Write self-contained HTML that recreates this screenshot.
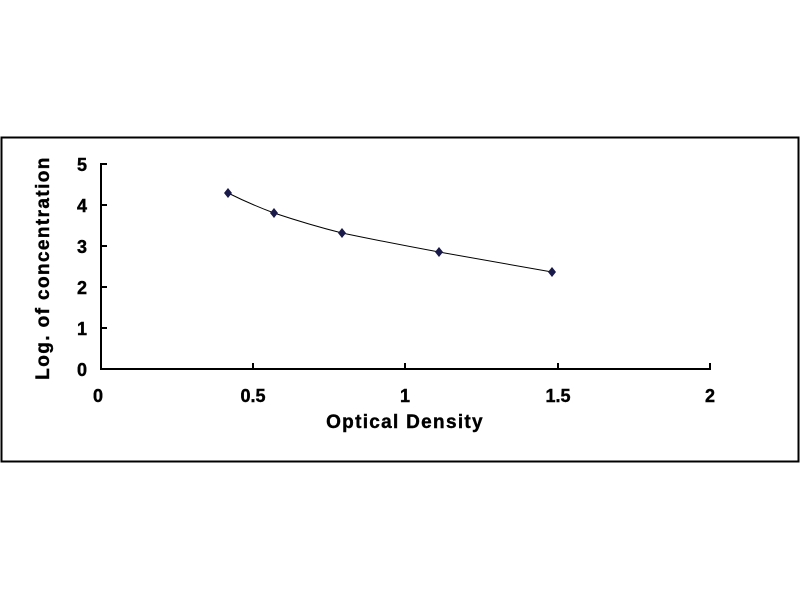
<!DOCTYPE html>
<html><head><style>body{margin:0;background:#fff;}svg{display:block}</style></head>
<body>
<svg width="800" height="600" xmlns="http://www.w3.org/2000/svg" font-family="Liberation Sans, Arial, sans-serif" font-weight="bold">
<rect x="1.5" y="137.5" width="797" height="324" fill="#fff" stroke="#000" stroke-width="2"/>
<g stroke="#000" stroke-width="2">
<line x1="101" y1="163" x2="101" y2="370"/>
<line x1="100" y1="369" x2="711" y2="369"/>
<line x1="101" y1="164" x2="107" y2="164"/>
<line x1="101" y1="205" x2="107" y2="205"/>
<line x1="101" y1="246" x2="107" y2="246"/>
<line x1="101" y1="287" x2="107" y2="287"/>
<line x1="101" y1="328" x2="107" y2="328"/>
<line x1="253" y1="363" x2="253" y2="369"/>
<line x1="405" y1="363" x2="405" y2="369"/>
<line x1="558" y1="363" x2="558" y2="369"/>
<line x1="710" y1="363" x2="710" y2="369"/>
</g>
<g font-size="18" text-anchor="end" stroke="#000" stroke-width="0.4">
<text x="87" y="171">5</text><text x="87" y="212">4</text><text x="87" y="253">3</text>
<text x="87" y="294">2</text><text x="87" y="335">1</text><text x="87" y="376">0</text>
</g>
<g font-size="18" text-anchor="middle" stroke="#000" stroke-width="0.4">
<text x="98" y="402">0</text><text x="253" y="402">0.5</text><text x="405" y="402">1</text>
<text x="558" y="402">1.5</text><text x="710" y="402">2</text>
</g>
<text x="405" y="428" font-size="19" letter-spacing="1.3" text-anchor="middle" stroke="#000" stroke-width="0.4">Optical Density</text>
<text transform="translate(49,268) rotate(-90)" font-size="19" letter-spacing="1.4" text-anchor="middle" stroke="#000" stroke-width="0.4">Log. of concentration</text>
<path d="M228,193 Q250,204 274,213 Q310,225 342,233 Q390,243 439,252 L552,272" fill="none" stroke="#000" stroke-width="1"/>
<g fill="#1a1a4a">
<polygon points="228,188 232,193 228,198 224,193"/>
<polygon points="274,208 278,213 274,218 270,213"/>
<polygon points="342,228 346,233 342,238 338,233"/>
<polygon points="439,247 443,252 439,257 435,252"/>
<polygon points="552,267 556,272 552,277 548,272"/>
</g>
</svg>
</body></html>
